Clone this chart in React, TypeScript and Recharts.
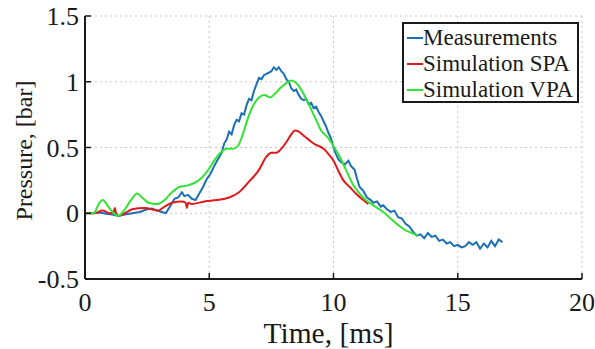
import { CartesianGrid, Line, LineChart, XAxis, YAxis } from "recharts";

// time [ms] / pressure [bar]
const measT = [
  0, 0.3, 0.6, 0.9, 1.1, 1.35, 1.6, 1.9, 2.2, 2.5, 2.7, 2.9, 3.1, 3.25, 3.45, 3.6, 3.75, 3.9, 4.0, 4.15,
  4.3, 4.45, 4.6, 4.75, 4.9, 5.05, 5.2, 5.35, 5.5, 5.6, 5.7, 5.8, 5.9, 6.0, 6.1, 6.2, 6.3, 6.4, 6.5, 6.6,
  6.7, 6.8, 6.9, 7.0, 7.1, 7.2, 7.3, 7.4, 7.5, 7.6, 7.7, 7.8, 7.9, 8.0, 8.1, 8.2, 8.3, 8.4, 8.5, 8.6,
  8.7, 8.8, 8.9, 9.0, 9.1, 9.2, 9.3, 9.4, 9.5, 9.6, 9.7, 9.8, 9.9, 10.0, 10.1, 10.2, 10.3, 10.45, 10.6, 10.7,
  10.85, 10.95, 11.05, 11.2, 11.35, 11.5, 11.6, 11.75, 11.9, 12.0, 12.15, 12.3, 12.45, 12.6, 12.75, 12.9, 13.05, 13.2, 13.35, 13.5,
  13.65, 13.8, 13.95, 14.1, 14.25, 14.4, 14.55, 14.7, 14.85, 15.0, 15.15, 15.3, 15.45, 15.6, 15.75, 15.9, 16.05, 16.2, 16.35, 16.5,
  16.65, 16.8,
];
const measP = [
  0, 0, 0.005, -0.005, -0.01, -0.02, -0.01, 0, 0.01, 0.03, 0.035, 0.02, 0.01, 0, 0.06, 0.11, 0.12, 0.16, 0.13, 0.14,
  0.11, 0.1, 0.15, 0.2, 0.26, 0.3, 0.36, 0.41, 0.46, 0.53, 0.56, 0.62, 0.6, 0.67, 0.71, 0.7, 0.76, 0.75, 0.82, 0.87,
  0.86, 0.93, 0.98, 1.03, 1.02, 1.05, 1.06, 1.07, 1.08, 1.11, 1.09, 1.11, 1.08, 1.06, 1.02, 1.0, 0.95, 0.93, 0.94, 0.9,
  0.87, 0.86, 0.87, 0.83, 0.84, 0.8, 0.81, 0.77, 0.74, 0.7, 0.66, 0.61, 0.57, 0.5, 0.45, 0.41, 0.39, 0.37, 0.4, 0.36,
  0.33, 0.26, 0.2, 0.17, 0.12, 0.1, 0.08, 0.09, 0.05, 0.06, 0.03, 0.01, 0.02, -0.03, -0.04, -0.08, -0.1, -0.14, -0.17, -0.16,
  -0.19, -0.15, -0.18, -0.17, -0.21, -0.2, -0.23, -0.22, -0.25, -0.24, -0.26, -0.25, -0.22, -0.24, -0.22, -0.27, -0.23, -0.26, -0.21, -0.25,
  -0.2, -0.22,
];

const spaT = [
  0, 0.4, 0.7, 1.0, 1.15, 1.2, 1.25, 1.35, 1.6, 1.9, 2.4, 2.95, 3.2, 3.5, 3.9, 4.05, 4.1, 4.15, 4.3, 4.8,
  5.3, 5.8, 6.2, 6.6, 7.0, 7.3, 7.5, 7.7, 7.85, 8.1, 8.3, 8.45, 8.6, 8.8, 9.0, 9.2, 9.6, 9.8, 10.0, 10.2,
  10.4, 10.65, 10.95, 11.2, 11.4,
];
const spaP = [
  0, 0, 0.02, 0, 0.01, 0.04, 0, -0.02, 0, 0.03, 0.04, 0.02, 0.05, 0.08, 0.09, 0.08, 0.04, 0.08, 0.07, 0.09,
  0.1, 0.12, 0.16, 0.24, 0.33, 0.43, 0.46, 0.46, 0.48, 0.54, 0.6, 0.63, 0.62, 0.59, 0.56, 0.53, 0.49, 0.45, 0.4, 0.32,
  0.25, 0.2, 0.14, 0.1, 0.07,
];

const vpaT = [
  0, 0.35, 0.55, 0.72, 0.9, 1.1, 1.35, 1.6, 1.85, 2.1, 2.3, 2.55, 2.9, 3.2, 3.5, 3.8, 4.1, 4.4, 4.7, 5.0,
  5.2, 5.45, 5.7, 5.95, 6.15, 6.35, 6.55, 6.8, 7.0, 7.2, 7.45, 7.65, 7.85, 8.1, 8.3, 8.5, 8.7, 8.9, 9.1, 9.3,
  9.5, 9.75, 10.0, 10.25, 10.5, 10.75, 11.0, 11.3, 11.6, 12.0, 12.3, 12.6, 12.9, 13.15, 13.4,
];
const vpaP = [
  0, 0, 0.07, 0.1, 0.06, 0.01, -0.02, 0.03, 0.1, 0.15, 0.12, 0.08, 0.07, 0.1, 0.16, 0.2, 0.21, 0.23, 0.27, 0.34,
  0.4, 0.46, 0.49, 0.49, 0.51, 0.6, 0.72, 0.83, 0.88, 0.9, 0.88, 0.91, 0.95, 0.99, 1.01, 0.99, 0.94, 0.87, 0.79, 0.71,
  0.63, 0.58, 0.51, 0.43, 0.33, 0.23, 0.16, 0.1, 0.06, 0.01, -0.04, -0.09, -0.13, -0.15, -0.17,
];

const xTicks = [0, 5, 10, 15, 20];
const yTicks = [-0.5, 0, 0.5, 1, 1.5];

const seriesNames = ["Measurements", "Simulation SPA", "Simulation VPA"];
const seriesColors = ["#1a6fb5", "#e0191b", "#33e333"];

const zip = (ts: number[], ps: number[]) => ts.map((t, i) => ({ t, p: ps[i] }));
const measData = zip(measT, measP);
const spaData = zip(spaT, spaP);
const vpaData = zip(vpaT, vpaP);

const FONT = "'Liberation Serif', 'Times New Roman', serif";
const INK = "#1a1a1a";
const txt = { fontFamily: FONT };

function BottomTick({ x, y, payload }: any) {
  return (
    <g>
      <line x1={x} x2={x} y1={y} y2={y - 6} stroke={INK} strokeWidth={1.5} />
      <text x={x} y={y + 32} textAnchor="middle" fontFamily={FONT} style={txt} fontSize={26} fill={INK}>
        {payload.value}
      </text>
    </g>
  );
}

function LeftTick({ x, y, payload }: any) {
  return (
    <g>
      <line x1={x} x2={x + 6} y1={y} y2={y} stroke={INK} strokeWidth={1.5} />
      <text x={x - 6} y={y + 9} textAnchor="end" fontFamily={FONT} style={txt} fontSize={26} fill={INK}>
        {payload.value}
      </text>
    </g>
  );
}

function TopTick({ x, y }: any) {
  return <line x1={x} x2={x} y1={y} y2={y + 6} stroke={INK} strokeWidth={1.5} />;
}

function RightTick({ x, y }: any) {
  return <line x1={x} x2={x - 6} y1={y} y2={y} stroke={INK} strokeWidth={1.5} />;
}

function LegendBox() {
  return (
    <div
      style={{
        position: "absolute",
        left: 402,
        top: 22,
        border: `2px solid ${INK}`,
        background: "#fff",
        width: 173,
        height: 76,
        fontFamily: FONT,
        fontSize: 23,
        color: INK,
        paddingTop: 1,
      }}
    >
      {seriesNames.map((name, i) => (
        <div key={name} style={{ display: "flex", alignItems: "center", height: 26, lineHeight: "26px" }}>
          <span style={{ display: "inline-block", width: 16, height: 2, marginLeft: 3, background: seriesColors[i] }} />
          <span style={{ whiteSpace: "nowrap" }}>{name}</span>
        </div>
      ))}
    </div>
  );
}

export default function App() {
  return (
    <div style={{ position: "absolute", left: 0, top: 0, width: 595, height: 349, background: "#fff" }}>
      <LineChart width={595} height={349} margin={{ top: 16, right: 13, bottom: 0, left: 0 }}>
        <CartesianGrid xAxisId="b" yAxisId="l" stroke="#c8c8c8" strokeDasharray="2 3" />
        <XAxis
          xAxisId="b"
          type="number"
          dataKey="t"
          domain={[0, 20]}
          ticks={xTicks}
          height={70}
          tickSize={0}
          tickMargin={0}
          tickLine={false}
          axisLine={{ stroke: INK, strokeWidth: 2 }}
          tick={BottomTick}
          label={(props: any) => {
            const vb = props.viewBox;
            return (
              <text x={vb.x + vb.width / 2 - 5} y={vb.y + 64} textAnchor="middle" style={txt} fontSize={29.5} fill={INK}>
                Time, [ms]
              </text>
            );
          }}
        />
        <XAxis
          xAxisId="t"
          orientation="top"
          type="number"
          dataKey="t"
          domain={[0, 20]}
          ticks={xTicks}
          height={0}
          tickSize={0}
          tickMargin={0}
          tickLine={false}
          axisLine={{ stroke: INK, strokeWidth: 2 }}
          tick={TopTick}
        />
        <YAxis
          yAxisId="l"
          type="number"
          domain={[-0.5, 1.5]}
          ticks={yTicks}
          width={85}
          tickSize={0}
          tickMargin={0}
          tickLine={false}
          axisLine={{ stroke: INK, strokeWidth: 2 }}
          tick={LeftTick}
          label={(props: any) => {
            const vb = props.viewBox;
            const cx = vb.x + 24;
            const cy = vb.y + vb.height / 2 + 3;
            return (
              <text
                x={cx}
                y={cy}
                transform={`rotate(-90 ${cx} ${cy})`}
                textAnchor="middle"
                dominantBaseline="central"
                style={txt}
                fontSize={24}
                fill={INK}
              >
                Pressure, [bar]
              </text>
            );
          }}
        />
        <YAxis
          yAxisId="r"
          orientation="right"
          type="number"
          domain={[-0.5, 1.5]}
          ticks={yTicks}
          width={0}
          tickSize={0}
          tickMargin={0}
          tickLine={false}
          axisLine={{ stroke: INK, strokeWidth: 2 }}
          tick={RightTick}
        />
        <Line
          xAxisId="b"
          yAxisId="l"
          data={measData}
          dataKey="p"
          name={seriesNames[0]}
          type="linear"
          stroke={seriesColors[0]}
          strokeWidth={2}
          dot={false}
          isAnimationActive={false}
        />
        <Line
          xAxisId="b"
          yAxisId="l"
          data={spaData}
          dataKey="p"
          name={seriesNames[1]}
          type="monotone"
          stroke={seriesColors[1]}
          strokeWidth={2}
          dot={false}
          isAnimationActive={false}
        />
        <Line
          xAxisId="b"
          yAxisId="l"
          data={vpaData}
          dataKey="p"
          name={seriesNames[2]}
          type="monotone"
          stroke={seriesColors[2]}
          strokeWidth={2}
          dot={false}
          isAnimationActive={false}
        />
      </LineChart>
      <LegendBox />
    </div>
  );
}
